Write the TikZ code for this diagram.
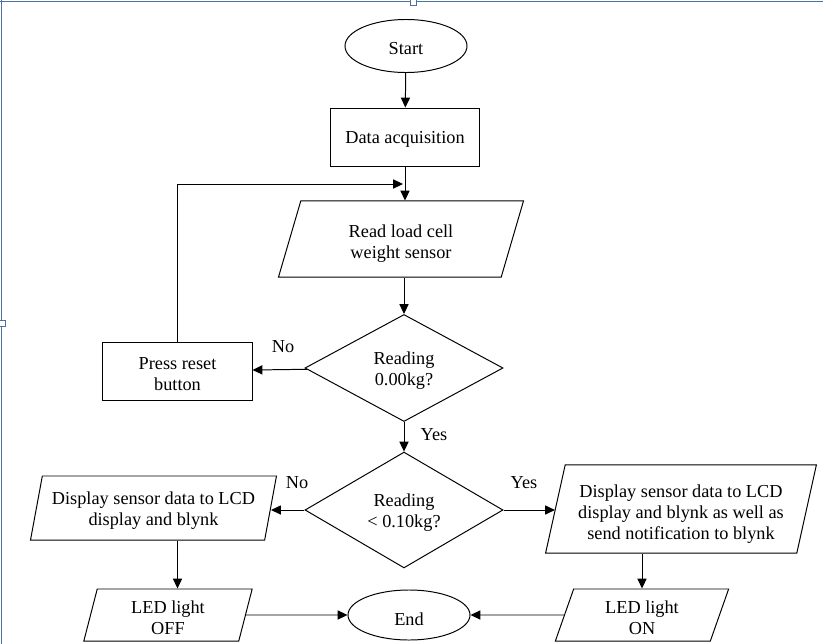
\documentclass[tikz,border=0pt]{standalone}
\usepackage{fontspec}
\setmainfont{Liberation Serif}
\usetikzlibrary{shapes.geometric,arrows.meta}
\definecolor{frameblue}{RGB}{79,113,158}
\newcommand{\dropline}[1]{\rule{0pt}{#1}}

\begin{document}
\begin{tikzpicture}[x=0.025cm,y=-0.025cm,
	every node/.style={font=\fontsize{13}{15}\selectfont},
	arr/.style={-{Triangle[length=7pt,width=6.5pt]}, line width=0.7pt},
	lower/.style={execute at begin node={\dropline{#1}}},
	lower/.default=12.5pt,
	term/.style={draw, ellipse, line width=0.7pt, inner sep=0pt, lower},
	proc/.style={draw, rectangle, line width=0.7pt, align=center, inner sep=0pt},
	io/.style={draw, trapezium, trapezium left angle=76, trapezium right angle=104, trapezium stretches=true, line width=0.7pt, align=center, inner sep=0pt},
	dec/.style={draw, diamond, line width=0.7pt, align=center, inner sep=0pt, minimum width=4.95cm, minimum height=2.675cm}]
	\useasboundingbox (0,0) rectangle (823,644);
	
	%Frame of the text box
	\draw[frameblue, line width=0.8pt] (0,1.5) -- (823,1.5);
	\draw[frameblue, line width=0.8pt] (1.5,0) -- (1.5,644);
	\draw[frameblue, fill=white, line width=0.5pt] (410,-1) rectangle (416,5);
	\draw[frameblue, fill=white, line width=0.5pt] (-1,320) rectangle (5,326);
	
	%Top column
	\node[term, minimum width=3.05cm, minimum height=1.325cm] (start) at (406,46) {Start};
	\node[proc, minimum width=3.7cm, minimum height=1.45cm, lower] (data) at (405,137) {Data acquisition};
	\node[io, minimum width=6.125cm, minimum height=1.9cm] (read) at (401,239) {\dropline{15.3pt}Read load cell\\weight sensor};
	
	%First check
	\node[dec] (dec1) at (404,368) {\dropline{12.5pt}Reading\\0.00kg?};
	\node[proc, minimum width=3.725cm, minimum height=1.45cm] (reset) at (177.5,371) {\dropline{12.5pt}Press reset\\button};
	
	%Second check
	\node[dec] (dec2) at (404,510) {\dropline{12.5pt}Reading\\\textless{} 0.10kg?};
	\node[io, minimum width=6.15cm, minimum height=1.6cm] (disp1) at (153.5,508) {\dropline{13pt}Display sensor data to LCD\\display and blynk};
	\node[io, minimum width=6.775cm, minimum height=2.2cm] (disp2) at (681,509) {\dropline{16.7pt}Display sensor data to LCD\\display and blynk as well as\\send notification to blynk};
	
	%Bottom row
	\node[io, trapezium left angle=80, trapezium right angle=100, minimum width=4.225cm, minimum height=1.3cm] (ledoff) at (168,615) {\dropline{13pt}LED light\\OFF};
	\node[term, minimum width=3.05cm, minimum height=1.25cm, lower=15.6pt] (end) at (409,615) {End};
	\node[io, minimum width=4.35cm, minimum height=1.3cm] (ledon) at (642,615) {\dropline{13pt}LED light\\ON};
	
	%Labels
	\node (no1) at (283,347) {No};
	\node (yes1) at (434,435) {Yes};
	\node (no2) at (297,483) {No};
	\node (yes2) at (524,483) {Yes};
	
	%Arrows
	\coordinate (back) at (403,184);
	\draw[arr] (start) -- (data);
	\draw[arr] (data) -- (data.south |- read.north);
	\draw[arr] (dec1.north |- read.south) -- (dec1.north);
	\draw[arr] (dec1) -- (reset);
	\draw[arr] (reset.north) |- (back);
	\draw[arr] (dec1) -- (dec2);
	\draw[arr] (dec2.west) -- (dec2.west -| disp1.east);
	\draw[arr] (dec2.east) -- (dec2.east -| disp2.west);
	\draw[arr] (disp1.south -| reset.south) -- (ledoff.north -| reset.south);
	\draw[arr] (disp2.south -| ledon.north) -- (ledon.north);
	\draw[arr] (ledoff) -- (end);
	\draw[arr] (ledon) -- (end);
	
\end{tikzpicture}
\end{document}
